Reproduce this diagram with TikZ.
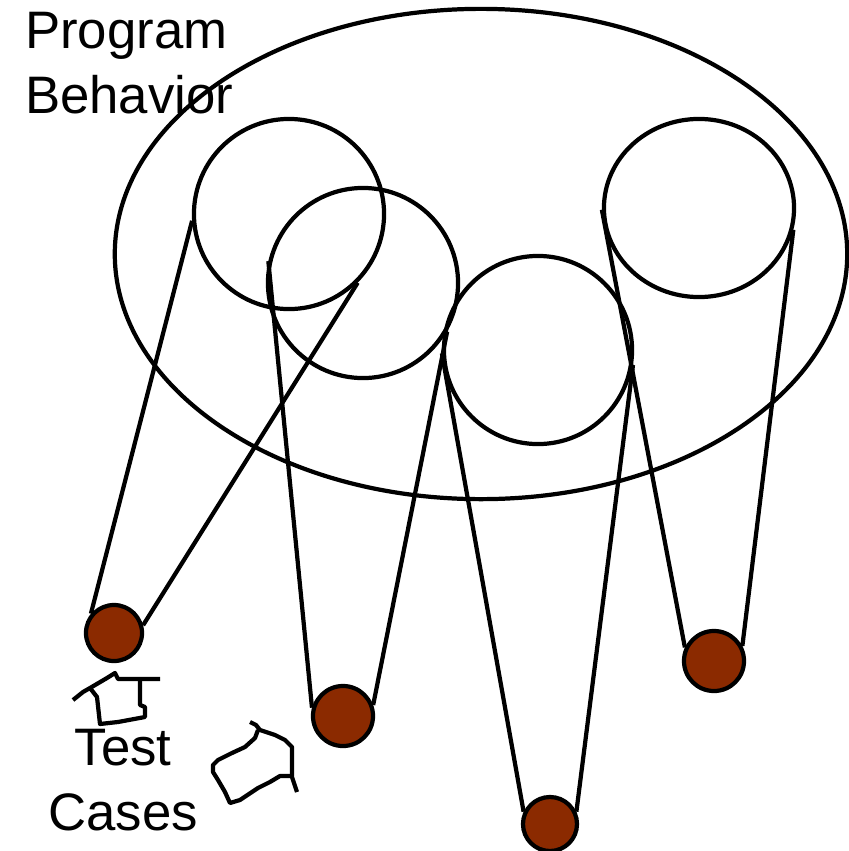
\documentclass[tikz,border=0pt]{standalone}
\usepackage{fontspec}
\setmainfont{Liberation Sans}
\definecolor{casebrown}{HTML}{8B2A00}
\usetikzlibrary{shapes.geometric}

\begin{document}
\begin{tikzpicture}[
  x=0.01cm, y=-0.01cm,
  line width=1.2pt,
  ring/.style={draw, circle, minimum size=1.9cm, inner sep=0pt},
  testcase/.style={draw, circle, fill=casebrown, minimum size=0.56cm, inner sep=0pt},
  cone/.style={draw, line join=round},
  pointer/.style={draw, line width=1.2pt, line join=round},
  lbl/.style={font=\fontsize{15}{18.5}\selectfont, inner sep=0pt},
]
\useasboundingbox (0,0) rectangle (849,851);

\node[draw, ellipse, minimum width=7.32cm, minimum height=4.9cm, inner sep=0pt] (behavior) at (481,254) {};

\node[ring] (b1) at (289,214) {};
\node[ring] (b2) at (363,283) {};
\node[ring, minimum size=1.88cm] (b3) at (538,350) {};
\node[draw, ellipse, minimum width=1.9cm, minimum height=1.78cm, inner sep=0pt] (b4) at (699,208) {};

\node[testcase] (t1) at (114,633) {};
\node[testcase, minimum size=0.6cm] (t2) at (343,716) {};
\node[testcase, minimum size=0.54cm] (t3) at (550,824) {};
\node[testcase, minimum size=0.6cm] (t4) at (714,661) {};

\draw[cone] (b1.184) -- (t1.140);
\draw[cone] (b1.315) -- (t1.15);
\draw[cone] (b2.167) -- (t2.165);
\draw[cone] (b2.330) -- (t2.20);
\draw[cone] (b3.182) -- (t3.155);
\draw[cone] (b3.351) -- (t3.25);
\draw[cone] (b4.181) -- (t4.155);
\draw[cone] (b4.347) -- (t4.28);

\node[lbl, anchor=north west, align=left] (title) at (23,10) {Program\\Behavior};
\node[lbl, anchor=north, align=center] (cases) at (123,727) {Test\\Cases};

\draw[pointer] (73,700) -- (83,692) -- (90,688) -- (97,697) -- (100,724) -- (118,722)
  -- (145,717) -- (145,707) -- (140,705) -- (140,680);
\draw[pointer] (90,688) -- (107,678) -- (115,673) -- (118,679) -- (160,679);
\draw[pointer] (250,722) -- (256,725) -- (260,730) -- (275,735) -- (285,740) -- (292,747)
  -- (292,777) -- (297,792);
\draw[pointer] (258,730) -- (255,738) -- (245,747) -- (232,753) -- (218,760) -- (213,765)
  -- (213,772) -- (218,780) -- (225,792) -- (230,803) -- (240,800) -- (258,788)
  -- (270,782) -- (280,776) -- (290,776);
\end{tikzpicture}
\end{document}
